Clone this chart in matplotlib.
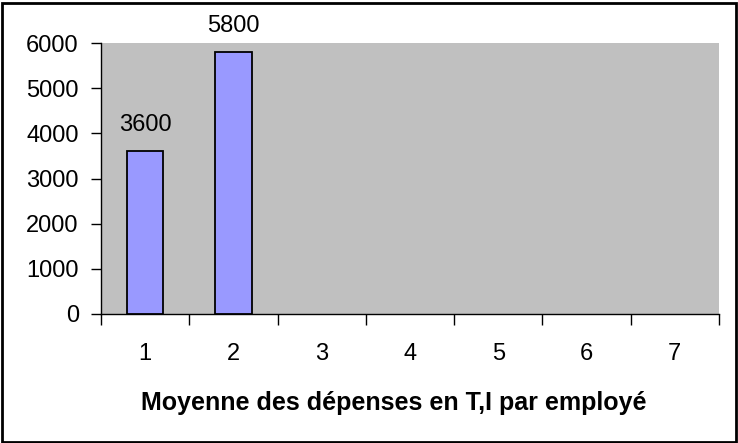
import matplotlib
matplotlib.use("Agg")
import matplotlib.pyplot as plt
from matplotlib.patches import Rectangle
import numpy as np

categories = ["1", "2", "3", "4", "5", "6", "7"]
values = [3600, 5800, None, None, None, None, None]
xlabel = "Moyenne des dépenses en T,I par employé"
yticks = [0, 1000, 2000, 3000, 4000, 5000, 6000]

plt.rcParams['font.family'] = ['Liberation Sans', 'DejaVu Sans']

W, H = 738, 443
fig = plt.figure(figsize=(W / 100, H / 100), dpi=100)
fig.patch.set_facecolor("white")
ax = fig.add_axes([101 / W, 1 - 314 / H, 618 / W, 271 / H])
ax.set_facecolor("#C0C0C0")

x = np.arange(1, len(categories) + 1)
for xi, v in zip(x, values):
    if v is None:
        continue
    ax.bar(xi, v, width=0.41, color="#9999FF", edgecolor="black", linewidth=1.3, zorder=3)
    ax.annotate(str(v), (xi, v), xytext=(0, 11), textcoords="offset points",
                ha="center", va="bottom", fontsize=17, color="black")

ax.set_xlim(0.5, len(categories) + 0.5)
ax.set_ylim(0, 6000)
ax.set_yticks(yticks)
ax.set_yticklabels([str(t) for t in yticks], fontsize=17)
ax.tick_params(axis="y", direction="out", length=7, width=1, pad=9)

ax.set_xticks(x)
ax.set_xticklabels(categories, fontsize=17)
ax.set_xticks(np.arange(0.5, len(categories) + 1, 1.0), minor=True)
ax.tick_params(axis="x", which="major", length=0, pad=21)
ax.tick_params(axis="x", which="minor", direction="out", length=8, width=1)

for s in ["top", "right"]:
    ax.spines[s].set_visible(False)
for s in ["left", "bottom"]:
    ax.spines[s].set_color("black")
    ax.spines[s].set_linewidth(1)

fig.text(394 / W, 1 - 403 / H, xlabel, ha="center", va="center",
         fontsize=18, fontweight="bold")

fig.patches.append(Rectangle((1.5 / W, 1.5 / H), (W - 4) / W, (H - 4) / H,
                             transform=fig.transFigure, fill=False,
                             edgecolor="black", linewidth=2, figure=fig))

fig.savefig("out.png", dpi=100)
